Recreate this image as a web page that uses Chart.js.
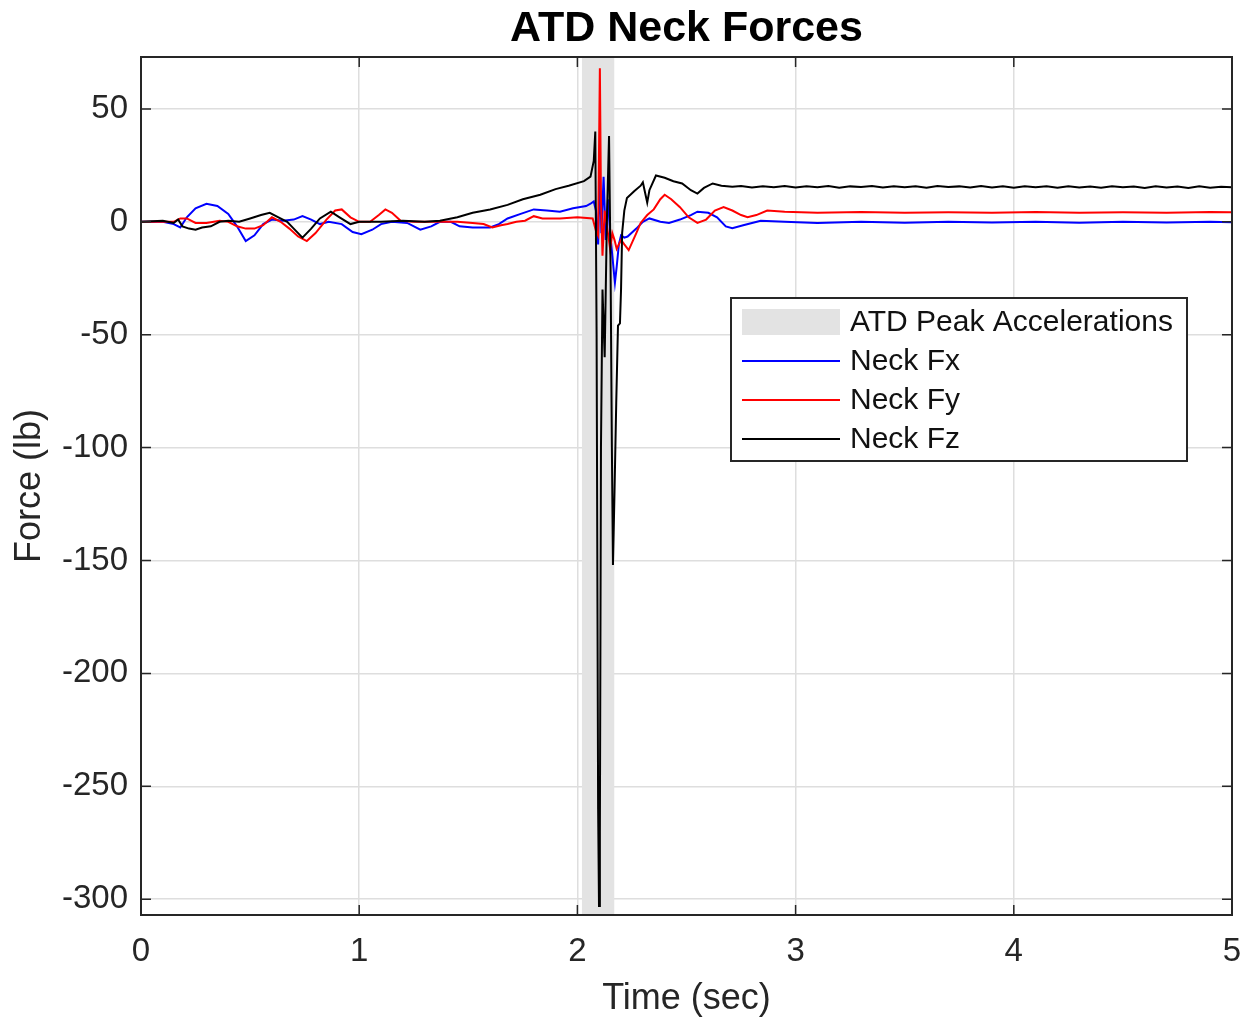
<!DOCTYPE html>
<html>
<head>
<meta charset="utf-8">
<title>ATD Neck Forces</title>
<script src="https://cdn.jsdelivr.net/npm/chart.js@4/dist/chart.umd.min.js"></script>
<style>
  html, body { margin: 0; padding: 0; background: #fff; }
</style>
</head>
<body>
<canvas id="neckChart" width="1247" height="1021"></canvas>
<script>
// values (time in sec, force in lb)
var fxTime = [0, 0.1, 0.15, 0.18, 0.21, 0.25, 0.30, 0.35, 0.40, 0.44, 0.48, 0.52, 0.56, 0.60, 0.65, 0.70, 0.74, 0.78, 0.82, 0.86,
  0.92, 0.97, 1.01, 1.06, 1.10, 1.15, 1.22, 1.28, 1.33, 1.37, 1.42, 1.46, 1.52, 1.60, 1.64, 1.68, 1.74, 1.80, 1.86, 1.92,
  1.98, 2.04, 2.06, 2.075, 2.085, 2.095, 2.103, 2.11, 2.12, 2.13, 2.14, 2.15, 2.16, 2.172, 2.18, 2.19, 2.20, 2.215, 2.23, 2.27,
  2.30, 2.33, 2.38, 2.42, 2.47, 2.52, 2.55, 2.60, 2.64, 2.68, 2.71, 2.76, 2.84, 2.95, 3.1, 3.3, 3.5, 3.7, 3.9, 4.1,
  4.3, 4.5, 4.7, 4.9, 5.0];
var fxVals = [0, 0, -1, -2.5, 2, 6, 8, 7, 3.5, -2, -8.5, -6, -1, 1, 0.5, 1, 2.5, 1, -1, 0,
  -1, -4.5, -5.5, -3.5, -1, 0, -0.5, -3.5, -2, 0, 0, -2, -2.5, -2.5, -1, 1.5, 3.5, 5.5, 5, 4.5,
  6, 7, 8, 9, 5, -10, 22, -5, 20, -8, 10, -5, -15, -27, -20, -10, -6, -7, -6.5, -3,
  0, 1.5, 0, -0.5, 1, 3, 4.5, 4, 2, -2, -2.8, -1.5, 0.5, 0, -0.5, 0, -0.4, 0, -0.3, 0,
  -0.4, 0, -0.3, 0, -0.2];

var fyTime = [0, 0.15, 0.18, 0.21, 0.25, 0.30, 0.36, 0.40, 0.44, 0.48, 0.52, 0.56, 0.60, 0.64, 0.68, 0.72, 0.76, 0.80, 0.85, 0.89,
  0.92, 0.96, 1.0, 1.05, 1.09, 1.12, 1.15, 1.19, 1.25, 1.37, 1.45, 1.52, 1.57, 1.61, 1.65, 1.68, 1.72, 1.76, 1.80, 1.84,
  1.92, 2.0, 2.07, 2.085, 2.095, 2.103, 2.108, 2.115, 2.125, 2.14, 2.15, 2.16, 2.17, 2.18, 2.19, 2.20, 2.215, 2.235, 2.27, 2.29,
  2.32, 2.35, 2.38, 2.40, 2.43, 2.47, 2.51, 2.55, 2.59, 2.63, 2.67, 2.71, 2.75, 2.78, 2.82, 2.87, 2.95, 3.1, 3.3, 3.5,
  3.7, 3.9, 4.1, 4.3, 4.5, 4.7, 4.9, 5.0];
var fyVals = [0, 0, 1.5, 1.5, -0.5, -0.5, 0.5, 0, -2, -3, -3, -1.5, 2, 0, -3, -6.5, -8.5, -5, 1, 5,
  5.5, 2, 0, 0, 3, 5.5, 4, 0.5, 0, 0, 0, -0.5, -1, -2.5, -1.5, -1, 0, 0.5, 2.5, 1.5,
  1.5, 2, 1.5, -4, -6, 68, 10, -15, 5, -5, -12, -5, -8, -12, -10, -8, -10, -12.5, -5, -0.5,
  3, 5.5, 10, 12, 10, 6.5, 2, -0.5, 1, 5, 6.5, 5, 3, 2, 3, 5, 4.5, 4, 4.3, 4,
  4.2, 4, 4.3, 4, 4.2, 4, 4.3, 4.2];

var fzTime = [0, 0.1, 0.15, 0.17, 0.19, 0.22, 0.25, 0.28, 0.32, 0.36, 0.40, 0.45, 0.50, 0.55, 0.59, 0.63, 0.67, 0.70, 0.74, 0.78,
  0.82, 0.87, 0.91, 0.96, 1.0, 1.1, 1.2, 1.3, 1.37, 1.45, 1.52, 1.60, 1.68, 1.75, 1.83, 1.90, 1.96, 2.03, 2.06, 2.075,
  2.082, 2.088, 2.095, 2.099, 2.103, 2.108, 2.115, 2.125, 2.135, 2.145, 2.152, 2.158, 2.163, 2.17, 2.178, 2.186, 2.195, 2.20, 2.205, 2.215,
  2.227, 2.26, 2.29, 2.30, 2.31, 2.32, 2.33, 2.36, 2.40, 2.44, 2.48, 2.52, 2.55, 2.58, 2.62, 2.66, 2.71, 2.75, 2.80, 2.85,
  2.90, 2.95, 3.00, 3.05, 3.10, 3.15, 3.20, 3.25, 3.30, 3.35, 3.40, 3.45, 3.50, 3.55, 3.60, 3.65, 3.70, 3.75, 3.80, 3.85,
  3.90, 3.95, 4.00, 4.05, 4.10, 4.15, 4.20, 4.25, 4.30, 4.35, 4.40, 4.45, 4.50, 4.55, 4.60, 4.65, 4.70, 4.75, 4.80, 4.85,
  4.90, 4.95, 5.0];
var fzVals = [0, 0.5, -0.5, 1, -2, -3, -3.5, -2.5, -2, 0, 0.5, 0, 1.5, 3, 4, 2, 0, -3, -7, -3,
  1.5, 4.5, 2, -1, 0, 0, 0.5, 0, 0.5, 2, 4, 5.5, 7.5, 10, 12, 14.5, 16, 18, 20, 27,
  40, -50, -260, -303, -270, -100, -30, -60, 0, 38, -20, -100, -152, -120, -80, -46, -45, -30, -5, 5,
  10.5, 13.5, 16, 17.5, 13, 8.5, 14, 20.5, 19.5, 18, 17, 14, 12.5, 15, 17, 16, 15.5, 15.9, 15.2, 15.8,
  15.3, 15.9, 15.2, 15.7, 15.3, 15.9, 15.1, 15.7, 15.4, 15.9, 15.2, 15.8, 15.3, 15.7, 15.1, 15.9, 15.4, 15.7, 15.2, 15.9,
  15.2, 15.7, 15.1, 15.8, 15.3, 15.7, 15.1, 15.7, 15.2, 15.6, 15.1, 15.7, 15.3, 15.6, 15.0, 15.7, 15.2, 15.6, 15.0, 15.7,
  15.1, 15.5, 15.3];

// shaded window of the peak accelerations
var peakStart = 2.02;
var peakEnd = 2.17;

var xTicks = [0, 1, 2, 3, 4, 5];
var yTicks = [-300, -250, -200, -150, -100, -50, 0, 50];
var yMin = -307, yMax = 73;

function toPoints(ts, vs) {
    var pts = [];
    for (var i = 0; i < ts.length; i++) {
        pts.push({x: ts[i], y: vs[i]});
    }
    return pts;
}

var fontFam = '"Liberation Sans", Arial, Helvetica, sans-serif';
var axisInk = '#262626';

// box round the axes, inner tick marks, and the legend
var framePlugin = {
    id: 'framePlugin',
    afterDatasetsDraw: function (chart) {
        var ctx = chart.ctx, a = chart.chartArea;
        var xs = chart.scales.x, ys = chart.scales.y;
        ctx.save();
        ctx.strokeStyle = axisInk;
        ctx.lineWidth = 1.5;
        ctx.beginPath();
        xs.ticks.forEach(function (t) {
            var px = xs.getPixelForValue(t.value);
            ctx.moveTo(px, a.bottom); ctx.lineTo(px, a.bottom - 10);
            ctx.moveTo(px, a.top); ctx.lineTo(px, a.top + 10);
        });
        ys.ticks.forEach(function (t) {
            var py = ys.getPixelForValue(t.value);
            ctx.moveTo(a.left, py); ctx.lineTo(a.left + 10, py);
            ctx.moveTo(a.right, py); ctx.lineTo(a.right - 10, py);
        });
        ctx.stroke();
        ctx.lineWidth = 2;
        ctx.strokeRect(a.left, a.top, a.right - a.left, a.bottom - a.top);

        // legend
        var bx = a.right - 501, by = a.top + 241, bw = 456, bh = 163;
        ctx.fillStyle = '#ffffff';
        ctx.fillRect(bx, by, bw, bh);
        ctx.strokeStyle = axisInk;
        ctx.lineWidth = 2;
        ctx.strokeRect(bx, by, bw, bh);
        ctx.font = '30px ' + fontFam;
        ctx.textBaseline = 'middle';
        ctx.textAlign = 'left';
        var order = [3, 0, 1, 2];
        order.forEach(function (di, row) {
            var ds = chart.data.datasets[di];
            var cy = by + 24 + row * 39;
            if (di === 3) {
                ctx.fillStyle = ds.backgroundColor;
                ctx.fillRect(bx + 11, cy - 13, 98, 26);
            } else {
                ctx.strokeStyle = ds.borderColor;
                ctx.lineWidth = 2;
                ctx.beginPath();
                ctx.moveTo(bx + 11, cy);
                ctx.lineTo(bx + 109, cy);
                ctx.stroke();
            }
            ctx.fillStyle = '#111111';
            ctx.fillText(ds.label, bx + 119, cy + 1);
        });
        ctx.restore();
    }
};

var ctx = document.getElementById('neckChart').getContext('2d');
var neckChart = new Chart(ctx, {
    type: 'line',
    data: {
        datasets: [
            {label: 'Neck Fx', data: toPoints(fxTime, fxVals), borderColor: '#0000ff', borderWidth: 2, order: 3},
            {label: 'Neck Fy', data: toPoints(fyTime, fyVals), borderColor: '#ff0000', borderWidth: 2, order: 2},
            {label: 'Neck Fz', data: toPoints(fzTime, fzVals), borderColor: '#000000', borderWidth: 2, order: 1},
            {
                label: 'ATD Peak Accelerations',
                data: [{x: peakStart, y: yMax}, {x: peakEnd, y: yMax}],
                borderWidth: 0,
                borderColor: 'rgba(0,0,0,0)',
                backgroundColor: '#e3e3e3',
                fill: 'start',
                order: 4
            }
        ]
    },
    options: {
        responsive: false,
        devicePixelRatio: 1,
        animation: false,
        elements: {
            point: {radius: 0},
            line: {tension: 0, fill: false}
        },
        layout: {padding: {left: 0, right: 15, top: 0, bottom: 0}},
        plugins: {
            legend: {display: false},
            tooltip: {enabled: false},
            title: {
                display: true,
                fullSize: false,
                text: 'ATD Neck Forces',
                color: '#000000',
                font: {family: fontFam, size: 43, weight: 'bold', lineHeight: 1.2},
                padding: {top: 3, bottom: 2.4}
            }
        },
        scales: {
            x: {
                type: 'linear',
                min: 0,
                max: 5,
                afterBuildTicks: function (scale) {
                    scale.ticks = xTicks.map(function (v) { return {value: v}; });
                },
                afterFit: function (scale) {
                    scale.height = 106;
                    scale.paddingLeft = 0;
                    scale.paddingRight = 0;
                },
                grid: {color: '#dedede', lineWidth: 1.5, drawTicks: false},
                border: {display: false},
                ticks: {
                    color: '#262626',
                    padding: 17,
                    maxRotation: 0,
                    font: {family: fontFam, size: 33}
                },
                title: {
                    display: true,
                    text: 'Time (sec)',
                    color: '#262626',
                    font: {family: fontFam, size: 36, lineHeight: 1.2},
                    padding: {top: 0, bottom: 0}
                }
            },
            y: {
                type: 'linear',
                min: yMin,
                max: yMax,
                afterBuildTicks: function (scale) {
                    scale.ticks = yTicks.map(function (v) { return {value: v}; });
                },
                afterFit: function (scale) { scale.width = 141; },
                grid: {color: '#dedede', lineWidth: 1.5, drawTicks: false},
                border: {display: false},
                ticks: {
                    color: '#262626',
                    padding: 13,
                    font: {family: fontFam, size: 33}
                },
                title: {
                    display: true,
                    text: 'Force (lb)',
                    color: '#262626',
                    font: {family: fontFam, size: 36, lineHeight: 1.2},
                    padding: {top: 8, bottom: 0}
                }
            }
        }
    },
    plugins: [framePlugin]
});
</script>
</body>
</html>
